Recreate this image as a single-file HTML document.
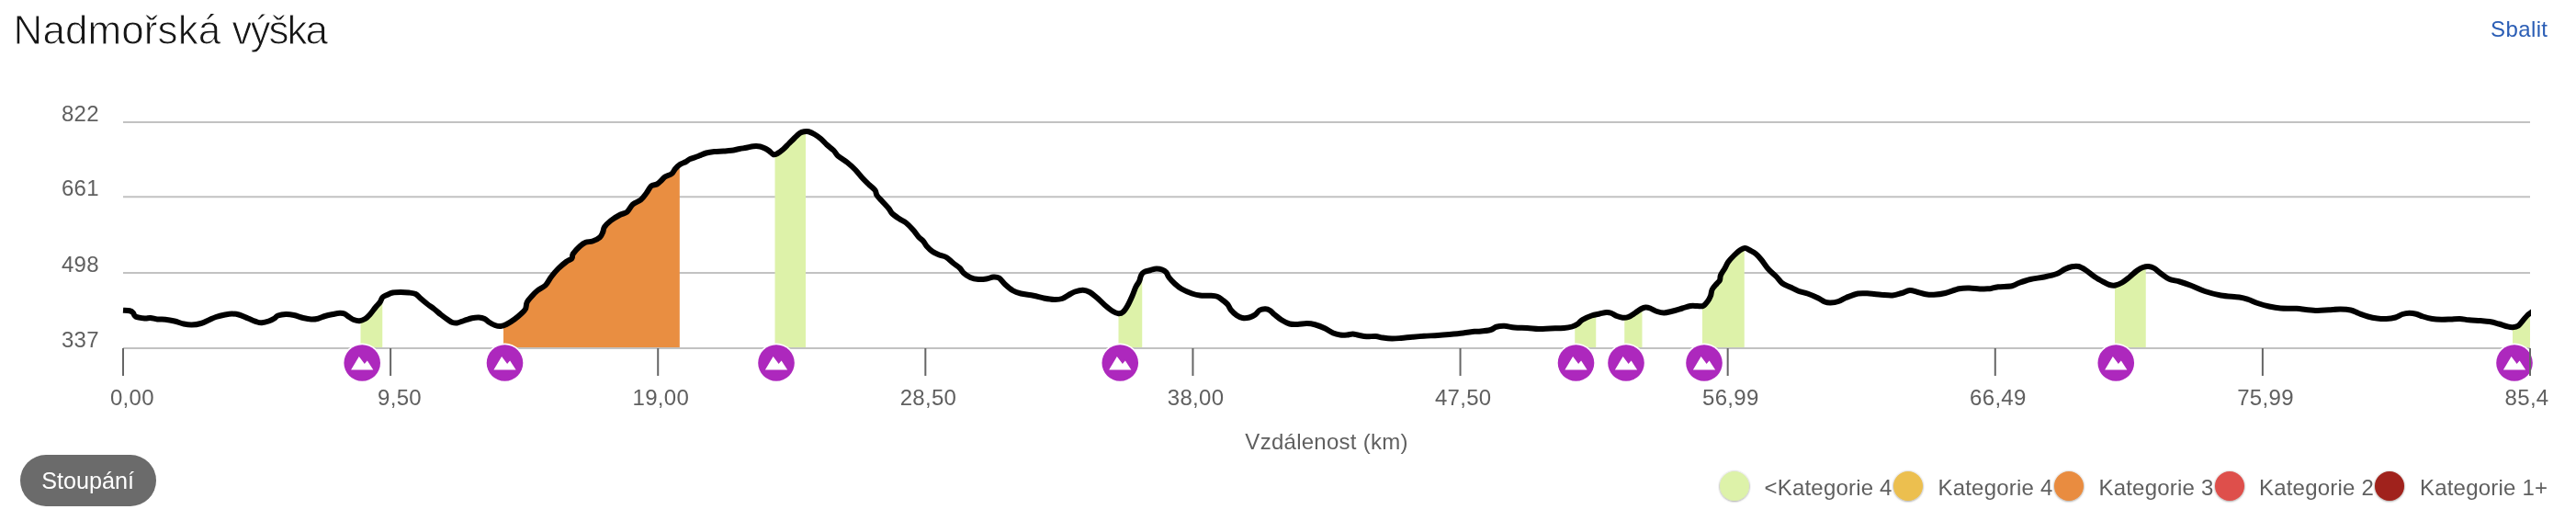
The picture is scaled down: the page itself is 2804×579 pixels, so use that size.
<!DOCTYPE html>
<html lang="cs"><head><meta charset="utf-8"><title>Nadmořská výška</title>
<style>
html,body{margin:0;padding:0;background:#fff}
body{width:2804px;height:579px;overflow:hidden}
svg{display:block;opacity:.999}
</style></head><body>
<svg width="2804" height="579" viewBox="0 0 2804 579">
<defs><clipPath id="cc"><rect x="133" y="100" width="2622" height="300"/></clipPath><filter id="sh" x="-30%" y="-30%" width="160%" height="160%"><feDropShadow dx="0" dy="0.5" stdDeviation="1" flood-color="#000" flood-opacity="0.5"/></filter></defs>
<rect x="134.00" y="132.00" width="2620.00" height="2" fill="#c2c2c2"/>
<rect x="134.00" y="213.25" width="2620.00" height="2" fill="#c2c2c2"/>
<rect x="134.00" y="296.00" width="2620.00" height="2" fill="#c2c2c2"/>
<path d="M392.50 379.00L392.50 348.80L397.50 347.00L402.50 342.50L408.75 334.50L413.75 328.75L416.25 323.75L416.25 379.00Z" fill="#ddf2a9"/>
<path d="M548.00 379.00L548.00 354.04L551.25 353.00L560.00 347.50L567.50 341.25L572.00 336.25L573.75 328.75L578.75 322.50L585.00 316.25L593.75 310.50L600.00 301.25L607.50 292.50L616.25 285.00L622.50 281.25L623.75 276.25L631.25 268.00L637.50 263.75L645.00 262.50L653.00 258.25L656.25 252.50L658.00 247.00L665.00 240.00L675.00 233.75L682.50 230.75L688.75 222.50L697.50 217.50L703.75 210.00L708.75 202.50L715.00 200.50L720.00 196.25L723.75 192.50L731.25 189.00L735.00 183.75L739.80 179.39L739.80 379.00Z" fill="#e98e41"/>
<path d="M843.50 379.00L843.50 167.81L846.25 167.00L852.50 162.50L858.75 156.25L865.00 150.00L870.50 145.00L875.25 143.25L877.00 143.25L877.00 379.00Z" fill="#ddf2a9"/>
<path d="M1217.50 379.00L1217.50 341.25L1222.50 339.50L1227.50 332.50L1232.50 322.00L1236.25 312.50L1240.00 306.25L1242.00 300.00L1243.25 298.44L1243.25 379.00Z" fill="#ddf2a9"/>
<path d="M1714.25 379.00L1714.25 354.06L1717.50 352.50L1722.50 348.00L1732.50 343.50L1737.25 342.41L1737.25 379.00Z" fill="#ddf2a9"/>
<path d="M1768.25 379.00L1768.25 345.51L1772.50 345.00L1780.00 340.50L1786.25 336.25L1787.50 335.81L1787.50 379.00Z" fill="#ddf2a9"/>
<path d="M1853.00 379.00L1853.00 333.00L1853.75 333.00L1858.75 328.00L1862.00 322.00L1863.75 315.00L1868.75 308.75L1872.00 305.00L1873.00 299.50L1877.50 292.00L1881.25 285.00L1887.50 278.00L1893.75 272.50L1898.75 270.33L1898.75 379.00Z" fill="#ddf2a9"/>
<path d="M2302.00 379.00L2302.00 310.46L2302.50 310.50L2310.00 307.50L2317.50 302.00L2326.25 294.50L2332.50 291.00L2335.75 290.48L2335.75 379.00Z" fill="#ddf2a9"/>
<path d="M2735.00 379.00L2735.00 356.25L2741.25 354.50L2746.25 348.75L2751.25 343.00L2754.00 341.00L2754.00 379.00Z" fill="#ddf2a9"/>
<rect x="134.00" y="378.00" width="2620.00" height="2" fill="#c2c2c2"/>
<rect x="133.00" y="379.00" width="2" height="30" fill="#666"/>
<rect x="424.11" y="379.00" width="2" height="30" fill="#666"/>
<rect x="715.22" y="379.00" width="2" height="30" fill="#666"/>
<rect x="1006.33" y="379.00" width="2" height="30" fill="#666"/>
<rect x="1297.44" y="379.00" width="2" height="30" fill="#666"/>
<rect x="1588.56" y="379.00" width="2" height="30" fill="#666"/>
<rect x="1879.67" y="379.00" width="2" height="30" fill="#666"/>
<rect x="2170.78" y="379.00" width="2" height="30" fill="#666"/>
<rect x="2461.89" y="379.00" width="2" height="30" fill="#666"/>
<rect x="2753.00" y="379.00" width="2" height="30" fill="#666"/>
<path d="M134.00 337.75C135.21 337.83 139.42 337.79 141.25 338.25C143.08 338.71 143.96 339.46 145.00 340.50C146.04 341.54 145.42 343.50 147.50 344.50C149.58 345.50 154.79 346.25 157.50 346.50C160.21 346.75 161.46 345.83 163.75 346.00C166.04 346.17 168.54 347.21 171.25 347.50C173.96 347.79 176.88 347.42 180.00 347.75C183.12 348.08 186.67 348.71 190.00 349.50C193.33 350.29 196.88 351.83 200.00 352.50C203.12 353.17 205.62 353.58 208.75 353.50C211.88 353.42 215.62 352.88 218.75 352.00C221.88 351.12 224.79 349.42 227.50 348.25C230.21 347.08 232.08 345.96 235.00 345.00C237.92 344.04 242.08 343.08 245.00 342.50C247.92 341.92 250.00 341.50 252.50 341.50C255.00 341.50 257.08 341.67 260.00 342.50C262.92 343.33 266.67 345.17 270.00 346.50C273.33 347.83 277.50 349.71 280.00 350.50C282.50 351.29 282.92 351.42 285.00 351.25C287.08 351.08 290.21 350.29 292.50 349.50C294.79 348.71 297.08 347.50 298.75 346.50C300.42 345.50 300.42 344.25 302.50 343.50C304.58 342.75 308.33 342.08 311.25 342.00C314.17 341.92 316.88 342.33 320.00 343.00C323.12 343.67 326.88 345.25 330.00 346.00C333.12 346.75 336.04 347.38 338.75 347.50C341.46 347.62 343.75 347.33 346.25 346.75C348.75 346.17 351.04 344.79 353.75 344.00C356.46 343.21 359.79 342.54 362.50 342.00C365.21 341.46 367.92 340.83 370.00 340.75C372.08 340.67 373.33 340.79 375.00 341.50C376.67 342.21 378.33 343.92 380.00 345.00C381.67 346.08 383.12 347.29 385.00 348.00C386.88 348.71 389.17 349.42 391.25 349.25C393.33 349.08 395.62 348.12 397.50 347.00C399.38 345.88 400.62 344.58 402.50 342.50C404.38 340.42 406.88 336.79 408.75 334.50C410.62 332.21 412.50 330.54 413.75 328.75C415.00 326.96 415.00 325.04 416.25 323.75C417.50 322.46 419.38 321.88 421.25 321.00C423.12 320.12 425.00 319.00 427.50 318.50C430.00 318.00 433.33 318.00 436.25 318.00C439.17 318.00 442.29 318.17 445.00 318.50C447.71 318.83 450.42 319.00 452.50 320.00C454.58 321.00 455.42 322.71 457.50 324.50C459.58 326.29 462.50 328.79 465.00 330.75C467.50 332.71 470.00 334.29 472.50 336.25C475.00 338.21 477.50 340.54 480.00 342.50C482.50 344.46 485.42 346.58 487.50 348.00C489.58 349.42 490.83 350.42 492.50 351.00C494.17 351.58 495.42 351.83 497.50 351.50C499.58 351.17 502.29 349.88 505.00 349.00C507.71 348.12 511.04 346.83 513.75 346.25C516.46 345.67 518.96 345.38 521.25 345.50C523.54 345.62 525.62 346.12 527.50 347.00C529.38 347.88 530.62 349.58 532.50 350.75C534.38 351.92 536.67 353.29 538.75 354.00C540.83 354.71 542.92 355.17 545.00 355.00C547.08 354.83 548.75 354.25 551.25 353.00C553.75 351.75 557.29 349.46 560.00 347.50C562.71 345.54 565.50 343.12 567.50 341.25C569.50 339.38 570.96 338.33 572.00 336.25C573.04 334.17 572.62 331.04 573.75 328.75C574.88 326.46 576.88 324.58 578.75 322.50C580.62 320.42 582.50 318.25 585.00 316.25C587.50 314.25 591.25 313.00 593.75 310.50C596.25 308.00 597.71 304.25 600.00 301.25C602.29 298.25 604.79 295.21 607.50 292.50C610.21 289.79 613.75 286.88 616.25 285.00C618.75 283.12 621.25 282.71 622.50 281.25C623.75 279.79 622.29 278.46 623.75 276.25C625.21 274.04 628.96 270.08 631.25 268.00C633.54 265.92 635.21 264.67 637.50 263.75C639.79 262.83 642.42 263.42 645.00 262.50C647.58 261.58 651.12 259.92 653.00 258.25C654.88 256.58 655.42 254.38 656.25 252.50C657.08 250.62 656.54 249.08 658.00 247.00C659.46 244.92 662.17 242.21 665.00 240.00C667.83 237.79 672.08 235.29 675.00 233.75C677.92 232.21 680.21 232.62 682.50 230.75C684.79 228.88 686.25 224.71 688.75 222.50C691.25 220.29 695.00 219.58 697.50 217.50C700.00 215.42 701.88 212.50 703.75 210.00C705.62 207.50 706.88 204.08 708.75 202.50C710.62 200.92 713.12 201.54 715.00 200.50C716.88 199.46 718.54 197.58 720.00 196.25C721.46 194.92 721.88 193.71 723.75 192.50C725.62 191.29 729.38 190.46 731.25 189.00C733.12 187.54 733.46 185.46 735.00 183.75C736.54 182.04 738.62 180.00 740.50 178.75C742.38 177.50 744.46 177.21 746.25 176.25C748.04 175.29 748.96 174.04 751.25 173.00C753.54 171.96 757.08 171.08 760.00 170.00C762.92 168.92 765.83 167.33 768.75 166.50C771.67 165.67 774.38 165.33 777.50 165.00C780.62 164.67 784.38 164.71 787.50 164.50C790.62 164.29 793.33 164.17 796.25 163.75C799.17 163.33 802.29 162.50 805.00 162.00C807.71 161.50 810.00 161.21 812.50 160.75C815.00 160.29 817.50 159.46 820.00 159.25C822.50 159.04 825.21 159.04 827.50 159.50C829.79 159.96 832.08 161.17 833.75 162.00C835.42 162.83 836.12 163.46 837.50 164.50C838.88 165.54 840.54 167.83 842.00 168.25C843.46 168.67 844.50 167.96 846.25 167.00C848.00 166.04 850.42 164.29 852.50 162.50C854.58 160.71 856.67 158.33 858.75 156.25C860.83 154.17 863.04 151.88 865.00 150.00C866.96 148.12 868.79 146.12 870.50 145.00C872.21 143.88 873.62 143.54 875.25 143.25C876.88 142.96 878.33 142.75 880.25 143.25C882.17 143.75 884.50 144.92 886.75 146.25C889.00 147.58 891.54 149.38 893.75 151.25C895.96 153.12 897.71 155.42 900.00 157.50C902.29 159.58 905.42 161.67 907.50 163.75C909.58 165.83 910.00 167.79 912.50 170.00C915.00 172.21 919.38 174.50 922.50 177.00C925.62 179.50 928.54 182.21 931.25 185.00C933.96 187.79 936.25 191.04 938.75 193.75C941.25 196.46 943.96 199.04 946.25 201.25C948.54 203.46 951.12 205.12 952.50 207.00C953.88 208.88 953.25 210.54 954.50 212.50C955.75 214.46 957.83 216.33 960.00 218.75C962.17 221.17 965.62 224.71 967.50 227.00C969.38 229.29 969.38 230.67 971.25 232.50C973.12 234.33 976.25 236.33 978.75 238.00C981.25 239.67 983.75 240.50 986.25 242.50C988.75 244.50 991.46 247.42 993.75 250.00C996.04 252.58 998.12 255.92 1000.00 258.00C1001.88 260.08 1003.54 260.83 1005.00 262.50C1006.46 264.17 1007.08 266.12 1008.75 268.00C1010.42 269.88 1012.71 272.17 1015.00 273.75C1017.29 275.33 1020.00 276.46 1022.50 277.50C1025.00 278.54 1027.50 278.54 1030.00 280.00C1032.50 281.46 1035.00 284.25 1037.50 286.25C1040.00 288.25 1043.12 290.21 1045.00 292.00C1046.88 293.79 1046.88 295.33 1048.75 297.00C1050.62 298.67 1053.54 300.83 1056.25 302.00C1058.96 303.17 1062.08 303.75 1065.00 304.00C1067.92 304.25 1071.04 303.92 1073.75 303.50C1076.46 303.08 1078.96 301.67 1081.25 301.50C1083.54 301.33 1085.42 301.21 1087.50 302.50C1089.58 303.79 1091.25 306.96 1093.75 309.25C1096.25 311.54 1099.58 314.54 1102.50 316.25C1105.42 317.96 1107.50 318.58 1111.25 319.50C1115.00 320.42 1120.83 320.92 1125.00 321.75C1129.17 322.58 1132.50 323.79 1136.25 324.50C1140.00 325.21 1144.17 325.92 1147.50 326.00C1150.83 326.08 1153.54 325.88 1156.25 325.00C1158.96 324.12 1161.46 322.00 1163.75 320.75C1166.04 319.50 1167.50 318.33 1170.00 317.50C1172.50 316.67 1176.04 315.67 1178.75 315.75C1181.46 315.83 1183.75 316.67 1186.25 318.00C1188.75 319.33 1191.04 321.42 1193.75 323.75C1196.46 326.08 1199.58 329.50 1202.50 332.00C1205.42 334.50 1208.75 337.21 1211.25 338.75C1213.75 340.29 1215.62 341.12 1217.50 341.25C1219.38 341.38 1220.83 340.96 1222.50 339.50C1224.17 338.04 1225.83 335.42 1227.50 332.50C1229.17 329.58 1231.04 325.33 1232.50 322.00C1233.96 318.67 1235.00 315.12 1236.25 312.50C1237.50 309.88 1239.04 308.33 1240.00 306.25C1240.96 304.17 1241.17 301.67 1242.00 300.00C1242.83 298.33 1243.25 297.25 1245.00 296.25C1246.75 295.25 1250.21 294.62 1252.50 294.00C1254.79 293.38 1256.67 292.58 1258.75 292.50C1260.83 292.42 1263.21 292.83 1265.00 293.50C1266.79 294.17 1268.25 295.08 1269.50 296.50C1270.75 297.92 1270.96 299.96 1272.50 302.00C1274.04 304.04 1276.46 306.67 1278.75 308.75C1281.04 310.83 1283.12 312.71 1286.25 314.50C1289.38 316.29 1294.17 318.33 1297.50 319.50C1300.83 320.67 1303.12 321.12 1306.25 321.50C1309.38 321.88 1313.12 321.54 1316.25 321.75C1319.38 321.96 1322.50 321.88 1325.00 322.75C1327.50 323.62 1329.38 325.58 1331.25 327.00C1333.12 328.42 1334.79 329.50 1336.25 331.25C1337.71 333.00 1338.33 335.50 1340.00 337.50C1341.67 339.50 1344.17 341.83 1346.25 343.25C1348.33 344.67 1350.21 345.62 1352.50 346.00C1354.79 346.38 1357.71 346.08 1360.00 345.50C1362.29 344.92 1364.38 343.83 1366.25 342.50C1368.12 341.17 1369.38 338.54 1371.25 337.50C1373.12 336.46 1375.62 336.17 1377.50 336.25C1379.38 336.33 1380.83 336.96 1382.50 338.00C1384.17 339.04 1385.42 340.79 1387.50 342.50C1389.58 344.21 1392.29 346.58 1395.00 348.25C1397.71 349.92 1400.83 351.71 1403.75 352.50C1406.67 353.29 1409.38 353.08 1412.50 353.00C1415.62 352.92 1419.38 351.96 1422.50 352.00C1425.62 352.04 1427.92 352.33 1431.25 353.25C1434.58 354.17 1439.17 355.96 1442.50 357.50C1445.83 359.04 1448.54 361.33 1451.25 362.50C1453.96 363.67 1456.25 364.17 1458.75 364.50C1461.25 364.83 1463.96 364.67 1466.25 364.50C1468.54 364.33 1470.42 363.46 1472.50 363.50C1474.58 363.54 1476.25 364.29 1478.75 364.75C1481.25 365.21 1484.38 366.04 1487.50 366.25C1490.62 366.46 1494.58 365.79 1497.50 366.00C1500.42 366.21 1502.08 367.08 1505.00 367.50C1507.92 367.92 1511.67 368.42 1515.00 368.50C1518.33 368.58 1521.25 368.29 1525.00 368.00C1528.75 367.71 1533.33 367.12 1537.50 366.75C1541.67 366.38 1545.42 366.04 1550.00 365.75C1554.58 365.46 1560.42 365.29 1565.00 365.00C1569.58 364.71 1572.92 364.42 1577.50 364.00C1582.08 363.58 1587.92 363.04 1592.50 362.50C1597.08 361.96 1602.08 361.04 1605.00 360.75C1607.92 360.46 1607.08 361.04 1610.00 360.75C1612.92 360.46 1619.38 359.83 1622.50 359.00C1625.62 358.17 1626.25 356.46 1628.75 355.75C1631.25 355.04 1634.17 354.62 1637.50 354.75C1640.83 354.88 1644.58 356.12 1648.75 356.50C1652.92 356.88 1658.12 356.75 1662.50 357.00C1666.88 357.25 1670.83 357.92 1675.00 358.00C1679.17 358.08 1682.92 357.67 1687.50 357.50C1692.08 357.33 1698.54 357.33 1702.50 357.00C1706.46 356.67 1708.75 356.25 1711.25 355.50C1713.75 354.75 1715.62 353.75 1717.50 352.50C1719.38 351.25 1720.00 349.50 1722.50 348.00C1725.00 346.50 1729.38 344.58 1732.50 343.50C1735.62 342.42 1738.54 342.08 1741.25 341.50C1743.96 340.92 1746.67 340.12 1748.75 340.00C1750.83 339.88 1751.88 340.08 1753.75 340.75C1755.62 341.42 1757.92 343.17 1760.00 344.00C1762.08 344.83 1764.17 345.58 1766.25 345.75C1768.33 345.92 1770.21 345.88 1772.50 345.00C1774.79 344.12 1777.71 341.96 1780.00 340.50C1782.29 339.04 1784.38 337.25 1786.25 336.25C1788.12 335.25 1789.58 334.62 1791.25 334.50C1792.92 334.38 1794.17 334.75 1796.25 335.50C1798.33 336.25 1801.25 338.17 1803.75 339.00C1806.25 339.83 1808.54 340.54 1811.25 340.50C1813.96 340.46 1816.67 339.58 1820.00 338.75C1823.33 337.92 1827.92 336.46 1831.25 335.50C1834.58 334.54 1837.29 333.42 1840.00 333.00C1842.71 332.58 1845.21 333.00 1847.50 333.00C1849.79 333.00 1851.88 333.83 1853.75 333.00C1855.62 332.17 1857.38 329.83 1858.75 328.00C1860.12 326.17 1861.17 324.17 1862.00 322.00C1862.83 319.83 1862.62 317.21 1863.75 315.00C1864.88 312.79 1867.38 310.42 1868.75 308.75C1870.12 307.08 1871.29 306.54 1872.00 305.00C1872.71 303.46 1872.08 301.67 1873.00 299.50C1873.92 297.33 1876.12 294.42 1877.50 292.00C1878.88 289.58 1879.58 287.33 1881.25 285.00C1882.92 282.67 1885.42 280.08 1887.50 278.00C1889.58 275.92 1891.75 273.83 1893.75 272.50C1895.75 271.17 1897.62 270.00 1899.50 270.00C1901.38 270.00 1903.04 271.46 1905.00 272.50C1906.96 273.54 1909.17 274.50 1911.25 276.25C1913.33 278.00 1915.21 280.21 1917.50 283.00C1919.79 285.79 1922.29 289.96 1925.00 293.00C1927.71 296.04 1931.25 298.71 1933.75 301.25C1936.25 303.79 1937.50 306.38 1940.00 308.25C1942.50 310.12 1945.83 311.08 1948.75 312.50C1951.67 313.92 1954.38 315.58 1957.50 316.75C1960.62 317.92 1963.96 318.25 1967.50 319.50C1971.04 320.75 1975.62 322.75 1978.75 324.25C1981.88 325.75 1983.96 327.62 1986.25 328.50C1988.54 329.38 1990.00 329.58 1992.50 329.50C1995.00 329.42 1998.33 328.96 2001.25 328.00C2004.17 327.04 2006.46 325.17 2010.00 323.75C2013.54 322.33 2018.33 320.21 2022.50 319.50C2026.67 318.79 2030.83 319.29 2035.00 319.50C2039.17 319.71 2043.33 320.42 2047.50 320.75C2051.67 321.08 2056.25 321.79 2060.00 321.50C2063.75 321.21 2066.88 319.92 2070.00 319.00C2073.12 318.08 2075.83 316.17 2078.75 316.00C2081.67 315.83 2084.58 317.29 2087.50 318.00C2090.42 318.71 2093.33 319.79 2096.25 320.25C2099.17 320.71 2101.46 320.96 2105.00 320.75C2108.54 320.54 2112.92 320.08 2117.50 319.00C2122.08 317.92 2128.12 315.17 2132.50 314.25C2136.88 313.33 2140.00 313.46 2143.75 313.50C2147.50 313.54 2151.46 314.38 2155.00 314.50C2158.54 314.62 2162.92 314.33 2165.00 314.25C2167.08 314.17 2165.83 314.33 2167.50 314.00C2169.17 313.67 2171.25 312.71 2175.00 312.25C2178.75 311.79 2186.25 311.96 2190.00 311.25C2193.75 310.54 2194.17 309.21 2197.50 308.00C2200.83 306.79 2205.42 305.08 2210.00 304.00C2214.58 302.92 2220.21 302.50 2225.00 301.50C2229.79 300.50 2235.00 299.42 2238.75 298.00C2242.50 296.58 2244.79 294.29 2247.50 293.00C2250.21 291.71 2252.50 290.75 2255.00 290.25C2257.50 289.75 2260.00 289.42 2262.50 290.00C2265.00 290.58 2267.08 291.88 2270.00 293.75C2272.92 295.62 2276.67 299.04 2280.00 301.25C2283.33 303.46 2287.29 305.54 2290.00 307.00C2292.71 308.46 2294.17 309.42 2296.25 310.00C2298.33 310.58 2300.21 310.92 2302.50 310.50C2304.79 310.08 2307.50 308.92 2310.00 307.50C2312.50 306.08 2314.79 304.17 2317.50 302.00C2320.21 299.83 2323.75 296.33 2326.25 294.50C2328.75 292.67 2330.42 291.75 2332.50 291.00C2334.58 290.25 2336.67 289.83 2338.75 290.00C2340.83 290.17 2342.71 290.67 2345.00 292.00C2347.29 293.33 2349.79 296.04 2352.50 298.00C2355.21 299.96 2357.92 302.33 2361.25 303.75C2364.58 305.17 2368.54 305.33 2372.50 306.50C2376.46 307.67 2380.42 309.00 2385.00 310.75C2389.58 312.50 2394.58 315.21 2400.00 317.00C2405.42 318.79 2411.25 320.42 2417.50 321.50C2423.75 322.58 2432.50 322.75 2437.50 323.50C2442.50 324.25 2444.17 324.92 2447.50 326.00C2450.83 327.08 2453.75 328.75 2457.50 330.00C2461.25 331.25 2465.83 332.58 2470.00 333.50C2474.17 334.42 2477.50 335.12 2482.50 335.50C2487.50 335.88 2495.42 335.50 2500.00 335.75C2504.58 336.00 2506.25 336.62 2510.00 337.00C2513.75 337.38 2518.33 337.96 2522.50 338.00C2526.67 338.04 2530.83 337.50 2535.00 337.25C2539.17 337.00 2543.54 336.46 2547.50 336.50C2551.46 336.54 2555.42 336.75 2558.75 337.50C2562.08 338.25 2564.38 339.83 2567.50 341.00C2570.62 342.17 2574.17 343.58 2577.50 344.50C2580.83 345.42 2584.17 346.08 2587.50 346.50C2590.83 346.92 2594.17 347.17 2597.50 347.00C2600.83 346.83 2604.58 346.33 2607.50 345.50C2610.42 344.67 2612.50 342.79 2615.00 342.00C2617.50 341.21 2620.00 340.79 2622.50 340.75C2625.00 340.71 2627.50 341.12 2630.00 341.75C2632.50 342.38 2634.58 343.62 2637.50 344.50C2640.42 345.38 2644.17 346.46 2647.50 347.00C2650.83 347.54 2654.17 347.67 2657.50 347.75C2660.83 347.83 2664.17 347.62 2667.50 347.50C2670.83 347.38 2674.17 346.88 2677.50 347.00C2680.83 347.12 2683.75 347.92 2687.50 348.25C2691.25 348.58 2696.25 348.71 2700.00 349.00C2703.75 349.29 2706.67 349.42 2710.00 350.00C2713.33 350.58 2716.88 351.62 2720.00 352.50C2723.12 353.38 2726.25 354.62 2728.75 355.25C2731.25 355.88 2732.92 356.38 2735.00 356.25C2737.08 356.12 2739.38 355.75 2741.25 354.50C2743.12 353.25 2744.58 350.67 2746.25 348.75C2747.92 346.83 2749.96 344.29 2751.25 343.00C2752.54 341.71 2752.21 342.30 2754.00 341.00C2755.79 339.70 2760.67 336.15 2762.00 335.18" fill="none" stroke="#000" stroke-width="6" stroke-linejoin="round" stroke-linecap="butt" clip-path="url(#cc)"/>
<g transform="translate(394.20 395)"><circle r="21.4" fill="#fff"/><circle r="19.8" fill="#ad28bd"/><path d="M-12.1 7.5L-3.4-6.9 2.6 .9 5.6-2.4 12.1 7.5Z" fill="#fff"/></g>
<g transform="translate(549.50 395)"><circle r="21.4" fill="#fff"/><circle r="19.8" fill="#ad28bd"/><path d="M-12.1 7.5L-3.4-6.9 2.6 .9 5.6-2.4 12.1 7.5Z" fill="#fff"/></g>
<g transform="translate(845.00 395)"><circle r="21.4" fill="#fff"/><circle r="19.8" fill="#ad28bd"/><path d="M-12.1 7.5L-3.4-6.9 2.6 .9 5.6-2.4 12.1 7.5Z" fill="#fff"/></g>
<g transform="translate(1219.25 395)"><circle r="21.4" fill="#fff"/><circle r="19.8" fill="#ad28bd"/><path d="M-12.1 7.5L-3.4-6.9 2.6 .9 5.6-2.4 12.1 7.5Z" fill="#fff"/></g>
<g transform="translate(1715.50 395)"><circle r="21.4" fill="#fff"/><circle r="19.8" fill="#ad28bd"/><path d="M-12.1 7.5L-3.4-6.9 2.6 .9 5.6-2.4 12.1 7.5Z" fill="#fff"/></g>
<g transform="translate(1770.00 395)"><circle r="21.4" fill="#fff"/><circle r="19.8" fill="#ad28bd"/><path d="M-12.1 7.5L-3.4-6.9 2.6 .9 5.6-2.4 12.1 7.5Z" fill="#fff"/></g>
<g transform="translate(1855.00 395)"><circle r="21.4" fill="#fff"/><circle r="19.8" fill="#ad28bd"/><path d="M-12.1 7.5L-3.4-6.9 2.6 .9 5.6-2.4 12.1 7.5Z" fill="#fff"/></g>
<g transform="translate(2303.25 395)"><circle r="21.4" fill="#fff"/><circle r="19.8" fill="#ad28bd"/><path d="M-12.1 7.5L-3.4-6.9 2.6 .9 5.6-2.4 12.1 7.5Z" fill="#fff"/></g>
<g transform="translate(2737.00 395)"><circle r="21.4" fill="#fff"/><circle r="19.8" fill="#ad28bd"/><path d="M-12.1 7.5L-3.4-6.9 2.6 .9 5.6-2.4 12.1 7.5Z" fill="#fff"/></g>
<rect x="2753.00" y="379.00" width="2" height="30" fill="#666"/>
<g font-family="'Liberation Sans', sans-serif" fill="#5f5f5f" font-size="24">
<text class="yl" x="66.9" y="131.7" letter-spacing="0.3">822</text>
<text class="yl" x="66.9" y="213.0" letter-spacing="0.3">661</text>
<text class="yl" x="66.9" y="295.6" letter-spacing="0.3">498</text>
<text class="yl" x="66.9" y="377.6" letter-spacing="0.3">337</text>
<text class="xl" x="167.90" y="441.3" text-anchor="end" letter-spacing="0.3">0,00</text>
<text class="xl" x="459.01" y="441.3" text-anchor="end" letter-spacing="0.3">9,50</text>
<text class="xl" x="750.12" y="441.3" text-anchor="end" letter-spacing="0.3">19,00</text>
<text class="xl" x="1041.23" y="441.3" text-anchor="end" letter-spacing="0.3">28,50</text>
<text class="xl" x="1332.34" y="441.3" text-anchor="end" letter-spacing="0.3">38,00</text>
<text class="xl" x="1623.46" y="441.3" text-anchor="end" letter-spacing="0.3">47,50</text>
<text class="xl" x="1914.57" y="441.3" text-anchor="end" letter-spacing="0.3">56,99</text>
<text class="xl" x="2205.68" y="441.3" text-anchor="end" letter-spacing="0.3">66,49</text>
<text class="xl" x="2496.79" y="441.3" text-anchor="end" letter-spacing="0.3">75,99</text>
<text class="xl" x="2726.6" y="441.3" letter-spacing="0.3">85,4</text>
<text id="axt" x="1444.1" y="488.8" text-anchor="middle" letter-spacing="0.27">Vzdálenost (km)</text>
<circle cx="1888.0" cy="529" r="16" fill="#ddf2a9" filter="url(#sh)"/>
<text class="lg" x="1920.5" y="538.9" letter-spacing="0.2">&lt;Kategorie 4</text>
<circle cx="2077.0" cy="529" r="16" fill="#ecbf4f" filter="url(#sh)"/>
<text class="lg" x="2109.5" y="538.9" letter-spacing="0.2">Kategorie 4</text>
<circle cx="2252.0" cy="529" r="16" fill="#e98c3f" filter="url(#sh)"/>
<text class="lg" x="2284.5" y="538.9" letter-spacing="0.2">Kategorie 3</text>
<circle cx="2427.0" cy="529" r="16" fill="#de4f4b" filter="url(#sh)"/>
<text class="lg" x="2459.0" y="538.9" letter-spacing="0.2">Kategorie 2</text>
<circle cx="2601.0" cy="529" r="16" fill="#a0231a" filter="url(#sh)"/>
<text class="lg" x="2634.0" y="538.9" letter-spacing="0.2">Kategorie 1+</text>
</g>
<text id="ttl" x="14.6" y="47.6" font-family="'Liberation Sans', sans-serif" font-size="44" fill="#161616" stroke="#fff" stroke-width="0.9"><tspan letter-spacing="0.08">Nadmořská </tspan><tspan x="252.4" letter-spacing="-2">výška</tspan></text>
<text id="sb" x="2711" y="40" font-family="'Liberation Sans', sans-serif" font-size="24" letter-spacing="0.4" fill="#2a5db5">Sbalit</text>
<rect x="22" y="495" width="148" height="56" rx="28" fill="#6b6b6b"/>
<text id="bt" x="95.6" y="532.3" text-anchor="middle" font-family="'Liberation Sans', sans-serif" font-size="25.2" fill="#fff">Stoupání</text>
</svg>
</body></html>
